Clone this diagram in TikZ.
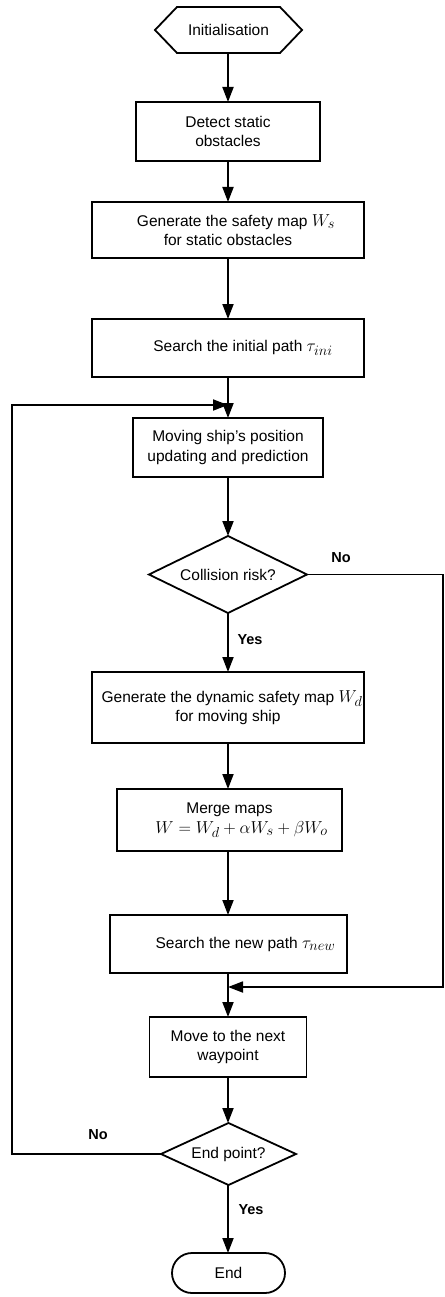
\documentclass[tikz,border=0pt]{standalone}
\usepackage{fontspec}
\setmainfont{Liberation Sans}
\usetikzlibrary{arrows.meta,calc}
\newcommand{\bigmth}[1]{{\fontsize{19}{19}\selectfont$#1$}}
\begin{document}
\begin{tikzpicture}[x=1pt,y=-1pt]
\tikzset{
  box/.style={draw, line width=1.8pt, rectangle, align=center, inner sep=2pt, outer sep=0pt, font=\fontsize{15.5}{19.5}\selectfont},
  shape0/.style={rectangle, align=center, inner sep=0pt, outer sep=0pt, font=\fontsize{15.5}{19.5}\selectfont},
  arr/.style={line width=1.8pt, -{Triangle[length=15pt,width=11pt]}},
  ln/.style={line width=1.8pt},
  lbl/.style={font=\fontsize{14.5}{16}\selectfont\bfseries, inner sep=0pt}
}
\useasboundingbox (0,0) rectangle (444,1297);

% nodes
\node[shape0, minimum width=147pt, minimum height=46pt] (init) at (228.5,30) {Initialisation};
\draw[ln, line join=miter] (init.west) -- ([xshift=22pt]init.north west) -- ([xshift=-22pt]init.north east) -- (init.east) -- ([xshift=-22pt]init.south east) -- ([xshift=22pt]init.south west) -- cycle;

\node[box, minimum width=184pt, minimum height=59pt] (detect) at (228,131.5) {Detect static\\obstacles};
\node[box, minimum width=272pt, minimum height=56pt] (gen) at (228,230) {\hspace*{16pt}Generate the safety map \bigmth{W_s}\\for static obstacles};
\node[box, minimum width=272pt, minimum height=58pt] (search) at (228,348) {\hspace*{30pt}Search the initial path \bigmth{\tau_{ini}}};
\node[box, minimum width=190pt, minimum height=59pt] (moving) at (228,447.5) {Moving ship's position\\updating and prediction};

\node[shape0, minimum width=158pt, minimum height=77pt] (coll) at (228,574.5) {Collision risk?};
\draw[ln] (coll.west) -- (coll.north) -- (coll.east) -- (coll.south) -- cycle;

\node[box, minimum width=272pt, minimum height=71pt] (dyn) at (228,707.5) {\hspace*{8pt}Generate the dynamic safety map \bigmth{W_d}\\for moving ship};
\node[box, minimum width=225pt, minimum height=62pt] (merge) at (229.5,820) {Merge maps\\\hspace*{24pt}\bigmth{W = W_d + \alpha W_s + \beta W_o}};
\node[box, minimum width=237pt, minimum height=58pt] (new) at (228.5,944) {\hspace*{34pt}Search the new path \bigmth{\tau_{new}}};
\node[box, minimum width=157pt, minimum height=60pt] (move) at (228,1047) {Move to the next\\waypoint};

\node[shape0, minimum width=135pt, minimum height=62pt] (endq) at (228.5,1154) {End point?};
\draw[ln] (endq.west) -- (endq.north) -- (endq.east) -- (endq.south) -- cycle;

\node[box, rounded corners=20pt, minimum width=113pt, minimum height=40pt] (end) at (228.5,1273) {End};

% coordinates
\coordinate (loopin) at (228,405);
\coordinate (loopL1) at (12,1154);
\coordinate (loopL2) at (12,405);
\coordinate (noR1) at (443,574.5);
\coordinate (noR2) at (443,987);
\coordinate (noin) at (228,987);

% connectors
\draw[arr] (init.south -| detect.north) -- (detect.north);
\draw[arr] (detect.south) -- (gen.north);
\draw[arr] (gen.south) -- (search.north);
\draw[arr] (search.south) -- (moving.north);
\draw[arr] (loopL1 -| endq.west) -- (loopL1) -- (loopL2) -- (loopin);
\draw[arr] (moving.south) -- (coll.north);
\draw[arr] (coll.south) -- (dyn.north);
\draw[arr] (dyn.south) -- (dyn.south |- merge.north);
\draw[arr] (dyn.south |- merge.south) -- (dyn.south |- new.north);
\draw[arr] (dyn.south |- new.south) -- (move.north);
\draw[arr] (noR1 -| coll.east) -- (noR1) -- (noR2) -- (noin);
\draw[arr] (move.south) -- (move.south |- endq.north);
\draw[arr] (move.south |- endq.south) -- (move.south |- end.north);

% labels
\node[lbl] (no1) at (341,558) {No};
\node[lbl] (yes1) at (250,640) {Yes};
\node[lbl] (no2) at (98,1135) {No};
\node[lbl] (yes2) at (251,1210) {Yes};
\end{tikzpicture}
\end{document}
